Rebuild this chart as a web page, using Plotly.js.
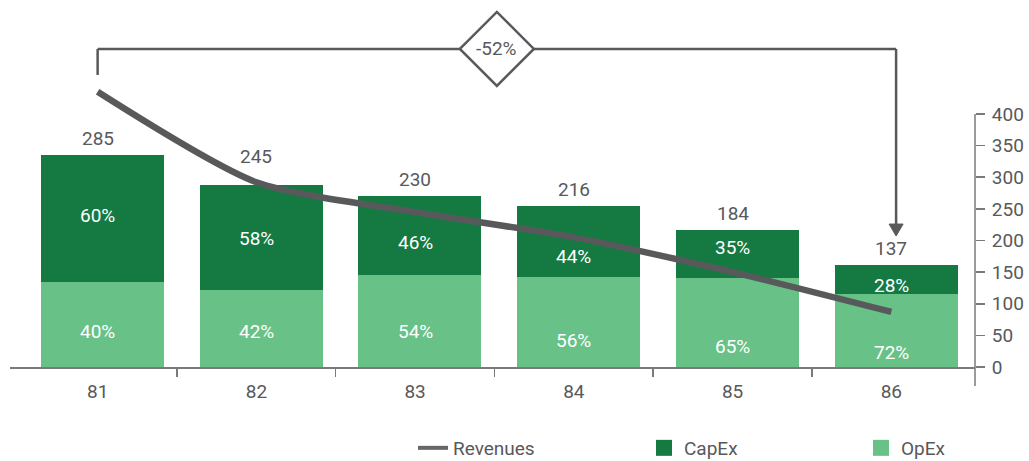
<!DOCTYPE html>
<html>
<head>
<meta charset="utf-8">
<script src="https://cdn.plot.ly/plotly-3.0.1.min.js"></script>
<style>
  html, body { margin: 0; padding: 0; background: #fff; }
  #plot { width: 1029px; height: 461px; }
</style>
</head>
<body>
<div id="plot"></div>
<script>
// данные
const years = ["81", "82", "83", "84", "85", "86"];
const totals = [285, 245, 230, 216, 184, 137];
const capexPct = [60, 58, 46, 44, 35, 28];
const opexPct = [40, 42, 54, 56, 65, 72];
const revenues = [435, 292, 245, 205, 150, 87];
const rightTicks = [0, 50, 100, 150, 200, 250, 300, 350, 400];

// сдвиги подписей в пикселях (как в оригинале, чтобы не лезли под линию)
const capexShift = [3, -1, -7, -15, 6, -6];
const opexShift = [-7, -3, -11, -19, -24, -22];
const totalShift = [0, 12, 0, 0, 0, 0];

const GREY = "#58595b";
const AXIS = "#7a7a7a";
const DARK = "#157a42";
const LIGHT = "#68c287";
const FS = 19;

const capex = totals.map((t, i) => (t * capexPct[i]) / 100);
const opex = totals.map((t, i) => (t * opexPct[i]) / 100);
const boundaries = years.slice(1).map((_, i) => i + 0.5);

// диапазоны осей (подобраны под пиксели картинки)
const xRange = [-0.552, 5.527];
const y2Range = [-52.17, 580.2];
const yRange = [-44.33, 492.95];
const axisPos = 0.0825;

const barCommon = {
  type: "bar",
  x: years,
  width: 0.775,
  offset: -0.357,
  showlegend: false,
  hoverinfo: "skip",
};

const traceOpex = Object.assign({}, barCommon, {
  y: opex,
  marker: { color: LIGHT },
  name: "OpEx",
});

const traceCapex = Object.assign({}, barCommon, {
  y: capex,
  marker: { color: DARK },
  name: "CapEx",
});

const traceRev = {
  type: "scatter",
  mode: "lines",
  x: years,
  y: revenues,
  yaxis: "y2",
  line: { color: GREY, width: 6.5, shape: "spline", smoothing: 0.7 },
  name: "Revenues",
  showlegend: false,
  hoverinfo: "skip",
};

// пустые трассы только для легенды
const legRev = {
  type: "scatter",
  mode: "lines",
  x: [null],
  y: [null],
  line: { color: "#666769", width: 4 },
  name: "Revenues",
  legend: "legend",
};
const legCapex = {
  type: "scatter",
  mode: "markers",
  x: [null],
  y: [null],
  marker: { symbol: "square", size: 18, color: DARK },
  name: "CapEx",
  legend: "legend2",
};
const legOpex = {
  type: "scatter",
  mode: "markers",
  x: [null],
  y: [null],
  marker: { symbol: "square", size: 18, color: LIGHT },
  name: "OpEx",
  legend: "legend3",
};

// подписи сумм над столбцами
const totalNotes = years.map((yr, i) => ({
  x: i,
  y: totals[i],
  xref: "x2",
  yref: "y",
  text: String(totals[i]),
  showarrow: false,
  yanchor: "bottom",
  yshift: 3 + totalShift[i],
  font: { size: FS, color: GREY },
}));

// проценты внутри столбцов
const pctNotes = [];
years.forEach((yr, i) => {
  pctNotes.push({
    x: i, y: opex[i] / 2, xref: "x2", yref: "y",
    text: opexPct[i] + "%", showarrow: false, yshift: opexShift[i],
    font: { size: FS, color: "#ffffff" },
  });
  pctNotes.push({
    x: i, y: opex[i] + capex[i] / 2, xref: "x2", yref: "y",
    text: capexPct[i] + "%", showarrow: false, yshift: capexShift[i],
    font: { size: FS, color: "#ffffff" },
  });
});

// скобка с изменением
const first = 0;
const last = 5.03;
const mid = (first + last) / 2;
const bracketY = 502.8;
const change = Math.round(((totals[totals.length - 1] - totals[0]) / totals[0]) * 100);

const shapes = [
  { type: "line", xref: "x2", yref: "y2", x0: first, x1: first, y0: 461.7, y1: bracketY, line: { color: GREY, width: 2.5 } },
  { type: "line", xref: "x2", yref: "y2", x0: first, x1: last, y0: bracketY, y1: bracketY, line: { color: GREY, width: 2.5 } },
  { type: "line", xref: "x2", yref: "y2", x0: last, x1: last, y0: bracketY, y1: 222, line: { color: GREY, width: 2.5 } },
  {
    type: "path", xref: "x2", yref: "y2",
    xsizemode: "pixel", ysizemode: "pixel", xanchor: last, yanchor: 207,
    path: "M -7 12 L 7 12 L 0 0 Z",
    fillcolor: GREY, line: { color: GREY, width: 1 },
  },
  {
    type: "path", xref: "x2", yref: "y2",
    xsizemode: "pixel", ysizemode: "pixel", xanchor: mid, yanchor: bracketY,
    path: "M -37 0 L 0 37 L 37 0 L 0 -37 Z",
    fillcolor: "#ffffff", line: { color: GREY, width: 2.5 },
  },
  // правая ось
  { type: "line", xref: "paper", yref: "y2", x0: 1, x1: 1, y0: -30, y1: 400, line: { color: AXIS, width: 1.5 } },
];

const legendBase = { xanchor: "left", y: -0.1675, yanchor: "bottom", font: { size: FS, color: GREY }, bgcolor: "rgba(0,0,0,0)" };

const layout = {
  width: 1029,
  height: 461,
  margin: { l: 10, r: 54, t: 0, b: 61, autoexpand: false },
  paper_bgcolor: "#ffffff",
  plot_bgcolor: "rgba(0,0,0,0)",
  font: { family: "Roboto, 'DejaVu Sans', sans-serif", size: FS, color: GREY },
  barmode: "stack",
  hovermode: false,
  xaxis: {
    type: "category",
    range: xRange,
    anchor: "free",
    position: axisPos,
    showline: true,
    linecolor: AXIS,
    linewidth: 1.5,
    ticks: "",
    ticklabelstandoff: 7,
    showgrid: false,
    zeroline: false,
    tickfont: { size: FS, color: GREY },
  },
  xaxis2: {
    type: "linear",
    overlaying: "x",
    range: xRange,
    anchor: "free",
    position: axisPos,
    tickvals: boundaries,
    ticks: "outside",
    ticklen: 9,
    tickwidth: 1.5,
    tickcolor: AXIS,
    showticklabels: false,
    showgrid: false,
    zeroline: false,
    showline: false,
  },
  xaxis3: {
    type: "linear",
    overlaying: "x",
    range: xRange,
    anchor: "free",
    position: axisPos,
    tickvals: boundaries,
    ticks: "inside",
    ticklen: 9,
    tickwidth: 1.5,
    tickcolor: AXIS,
    showticklabels: false,
    showgrid: false,
    zeroline: false,
    showline: false,
  },
  yaxis: {
    range: yRange,
    showticklabels: false,
    ticks: "",
    showgrid: false,
    zeroline: false,
    showline: false,
  },
  yaxis2: {
    overlaying: "y",
    side: "right",
    anchor: "x",
    range: y2Range,
    tickvals: rightTicks,
    ticks: "outside",
    ticklen: 9,
    tickwidth: 1.5,
    tickcolor: AXIS,
    ticklabelstandoff: 3,
    showgrid: false,
    zeroline: false,
    showline: false,
    tickfont: { size: FS, color: GREY },
  },
  yaxis3: {
    overlaying: "y",
    side: "right",
    anchor: "x",
    range: y2Range,
    tickvals: rightTicks.slice(0, -1),
    ticks: "inside",
    ticklen: 8,
    tickwidth: 1.5,
    tickcolor: AXIS,
    showticklabels: false,
    showgrid: false,
    zeroline: false,
    showline: false,
  },
  legend: Object.assign({ x: (413 - 10) / 965 }, legendBase),
  legend2: Object.assign({ x: (644 - 10) / 965 }, legendBase),
  legend3: Object.assign({ x: (861 - 10) / 965 }, legendBase),
  shapes: shapes,
  annotations: totalNotes.concat(pctNotes, [
    {
      x: mid, y: bracketY, xref: "x2", yref: "y2",
      text: change + "%", showarrow: false,
      font: { size: FS, color: GREY },
    },
  ]),
};

Plotly.newPlot("plot", [traceOpex, traceCapex, traceRev, legRev, legCapex, legOpex], layout, {
  displayModeBar: false,
  staticPlot: true,
});
</script>
</body>
</html>
